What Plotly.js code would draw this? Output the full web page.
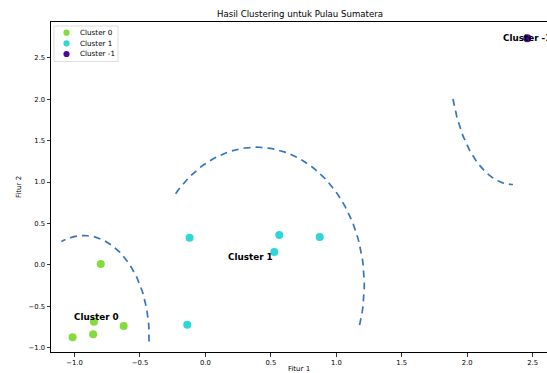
<!DOCTYPE html>
<html>
<head>
<meta charset="utf-8">
<script src="https://cdn.plot.ly/plotly-3.0.1.min.js"></script>
<style>
  html, body { margin: 0; padding: 0; background: #ffffff; overflow: hidden; }
  #chart { width: 547px; height: 373px; }
</style>
</head>
<body>
<div id="chart"></div>
<script>
// ---- data ----
const clusterNames = ["Cluster 0", "Cluster 1", "Cluster -1"];
const clusterColors = ["#84dc3c", "#2fd6d6", "#4b0aa6"];

const cluster0X = [-0.800, -1.015, -0.858, -0.852, -0.625];
const cluster0Y = [0.010, -0.872, -0.836, -0.684, -0.736];

const cluster1X = [-0.121, 0.564, 0.873, 0.526, -0.139];
const cluster1Y = [0.329, 0.362, 0.338, 0.157, -0.720];

const clusterM1X = [2.460];
const clusterM1Y = [2.735];

// dashed boundary arcs (ellipse parameters, one entry per cluster)
const arcCenterX = [-0.93, 0.39, 2.35];
const arcCenterY = [-0.86, -0.24, 2.50];
const arcRadiusX = [0.50, 0.824, 0.485];
const arcRadiusY = [1.215, 1.66, 1.53];
const arcStartDeg = [-3, -17, 199];
const arcEndDeg = [110, 139, 270];

const xTickVals = [-1.0, -0.5, 0.0, 0.5, 1.0, 1.5, 2.0, 2.5];
const yTickVals = [-1.0, -0.5, 0.0, 0.5, 1.0, 1.5, 2.0, 2.5];

// ---- figure geometry ----
const W = 547, H = 373;
const M = { l: 51, r: 0, t: 22, b: 21 };
const plotW = W - M.l - M.r, plotH = H - M.t - M.b;
const px2paperX = px => (px - M.l) / plotW;
const py2paperY = py => (H - M.b - py) / plotH;

const FONT = "DejaVu Sans, Liberation Sans, sans-serif";

const xs = [cluster0X, cluster1X, clusterM1X];
const ys = [cluster0Y, cluster1Y, clusterM1Y];
const mean = a => a.reduce((s, v) => s + v, 0) / a.length;

const traces = [];
// arcs first (under points)
for (let i = 0; i < arcCenterX.length; i++) {
  const ax = [], ay = [];
  const n = 80;
  for (let k = 0; k <= n; k++) {
    const t = (arcStartDeg[i] + (arcEndDeg[i] - arcStartDeg[i]) * k / n) * Math.PI / 180;
    ax.push(arcCenterX[i] + arcRadiusX[i] * Math.cos(t));
    ay.push(arcCenterY[i] + arcRadiusY[i] * Math.sin(t));
  }
  traces.push({
    x: ax, y: ay, type: "scatter", mode: "lines", showlegend: false, hoverinfo: "skip",
    line: { color: "#3874bf", width: 1.7, dash: "7px,5px" }
  });
}
for (let i = 0; i < xs.length; i++) {
  traces.push({
    x: xs[i], y: ys[i], type: "scatter", mode: "markers", name: clusterNames[i],
    showlegend: false,
    marker: { color: clusterColors[i], size: 8, line: { width: 0 } }
  });
}

const annotations = [];
// cluster labels at centroids
for (let i = 0; i < xs.length; i++) {
  annotations.push({
    x: mean(xs[i]), y: mean(ys[i]), xref: "x", yref: "y",
    text: "<b>" + clusterNames[i] + "</b>", showarrow: false,
    xanchor: "center", yanchor: "middle",
    font: { family: FONT, size: 8.8, color: "#000000" }
  });
}

// custom compact legend
const shapes = [];
shapes.push({
  type: "rect", xref: "paper", yref: "paper",
  x0: px2paperX(54), x1: px2paperX(118), y0: py2paperY(26), y1: py2paperY(61.5),
  line: { color: "#d6d6d6", width: 0.8 }, fillcolor: "rgba(255,255,255,0.85)", layer: "above"
});
const legendRowsY = [32.7, 43.3, 54.0];
for (let i = 0; i < clusterNames.length; i++) {
  const cy = legendRowsY[i], cx = 66.5, r = 3.1;
  shapes.push({
    type: "circle", xref: "paper", yref: "paper", layer: "above",
    x0: px2paperX(cx - r), x1: px2paperX(cx + r),
    y0: py2paperY(cy + r), y1: py2paperY(cy - r),
    fillcolor: clusterColors[i], line: { width: 0 }
  });
  annotations.push({
    x: px2paperX(77.5), y: py2paperY(cy), xref: "paper", yref: "paper",
    text: clusterNames[i], showarrow: false, xanchor: "left", yanchor: "middle",
    font: { family: FONT, size: 7.2, color: "#000000" }
  });
}

const axisCommon = {
  showgrid: false, zeroline: false,
  showline: true, linecolor: "#000000", linewidth: 1, mirror: true,
  ticks: "outside", ticklen: 3.5, tickwidth: 0.8, tickcolor: "#000000",
  tickfont: { family: FONT, size: 6.8, color: "#000000" },
  tickformat: ".1f", tickmode: "array"
};

const layout = {
  width: W, height: H,
  margin: M,
  paper_bgcolor: "#ffffff", plot_bgcolor: "#ffffff",
  showlegend: false,
  title: {
    text: "Hasil Clustering untuk Pulau Sumatera",
    x: 300 / W, xanchor: "center", xref: "container",
    y: 1 - 14 / H, yanchor: "middle", yref: "container",
    font: { family: FONT, size: 8.6, color: "#000000" }
  },
  xaxis: Object.assign({}, axisCommon, {
    range: [-1.18, 2.61], tickvals: xTickVals,
    title: { text: "Fitur 1", standoff: 1, font: { family: FONT, size: 7, color: "#000000" } }
  }),
  yaxis: Object.assign({}, axisCommon, {
    range: [-1.05, 2.93], tickvals: yTickVals,
    title: { text: "Fitur 2", standoff: 6, font: { family: FONT, size: 7, color: "#000000" } }
  }),
  annotations: annotations,
  shapes: shapes
};

Plotly.newPlot("chart", traces, layout, { staticPlot: true, displayModeBar: false });
</script>
</body>
</html>
